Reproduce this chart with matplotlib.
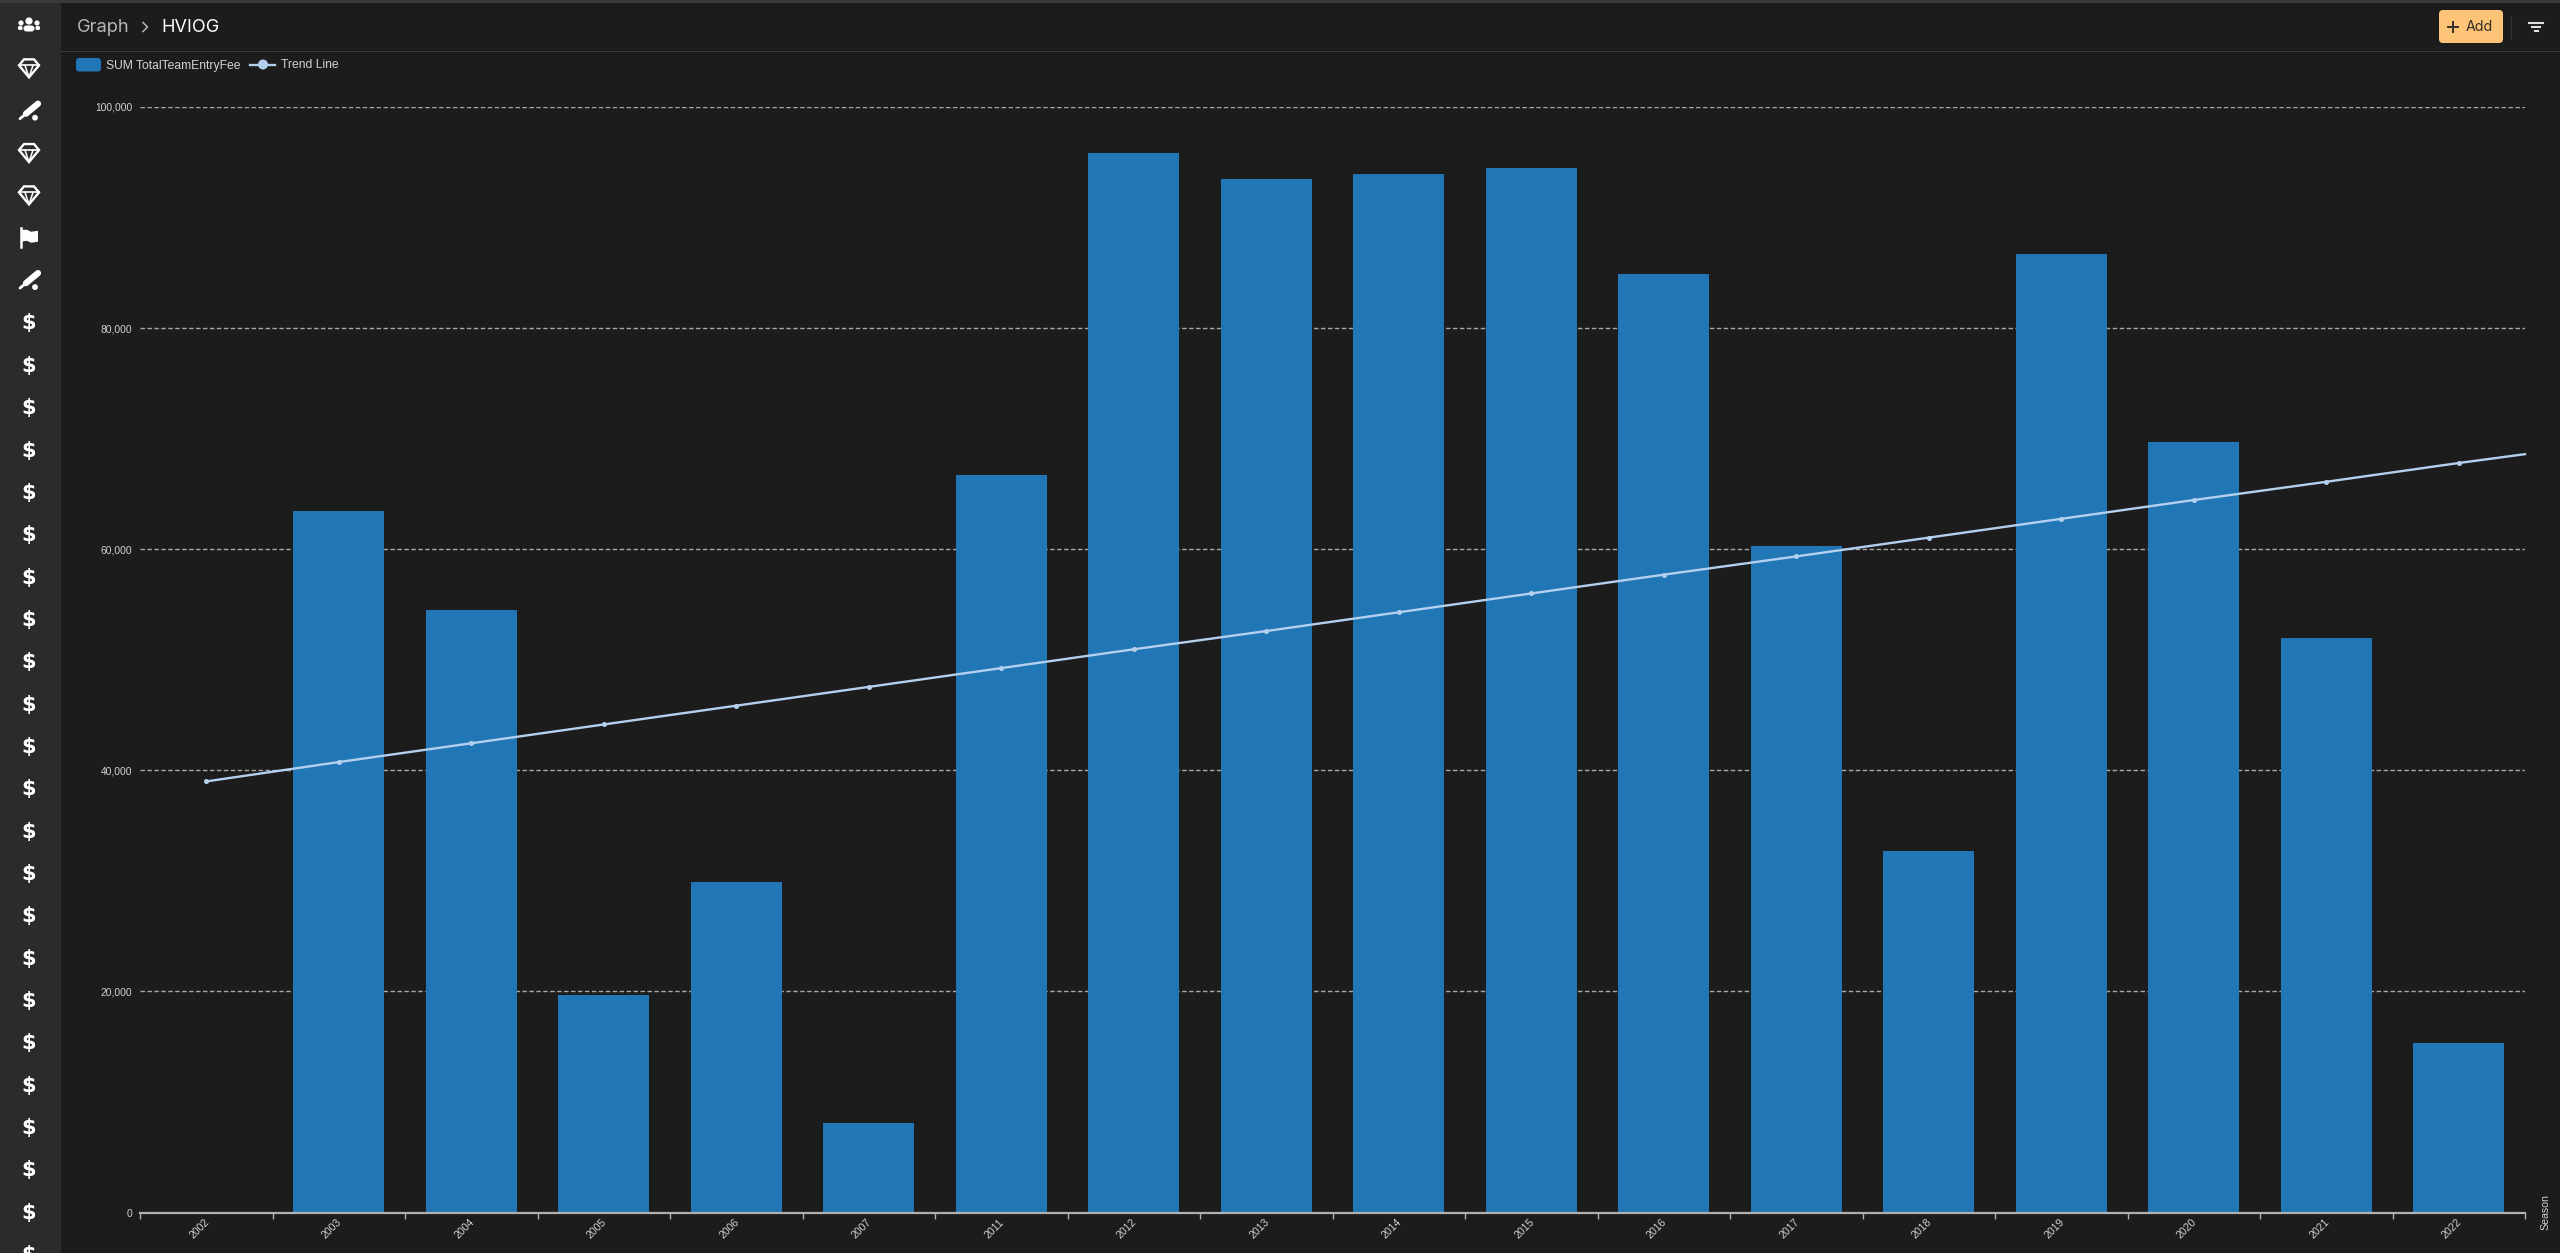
import numpy as np
import matplotlib
matplotlib.use('Agg')
import matplotlib.pyplot as plt
from matplotlib.patches import FancyBboxPatch, Polygon, Rectangle, Circle
from matplotlib.lines import Line2D

seasons = ['2002', '2003', '2004', '2005', '2006', '2007', '2011', '2012', '2013',
           '2014', '2015', '2016', '2017', '2018', '2019', '2020', '2021', '2022']
entry_fee = [0, 63500, 54500, 19700, 29900, 8100, 66700, 95800, 93500,
             93900, 94500, 84900, 60300, 32700, 86700, 69700, 52000, 15300]
trend = [39000, 40750, 42450, 44150, 45850, 47550, 49250, 50950, 52600,
         54300, 56000, 57700, 59350, 61050, 62750, 64450, 66100, 67800]
trend_end = 68600
y_ticks = [0, 20000, 40000, 60000, 80000, 100000]

# icons down the side bar, top to bottom
side_icons = ['people', 'gem', 'bat', 'gem', 'gem', 'flag', 'bat'] + ['dollar'] * 23

BG = '#1c1c1c'
SIDE = '#2b2b2b'
BAR = '#2176b6'
LINE = '#b4d0ef'
TXT = '#d2d2d2'
W, H = 2560, 1253

plt.rcParams['font.family'] = ['Liberation Sans', 'DejaVu Sans']

fig = plt.figure(figsize=(W / 100, H / 100), dpi=100, facecolor=BG)

# chart axes, placed in pixels
x0, x1, y_top, y_bot = 140, 2525, 107, 1212.6
ax = fig.add_axes([x0 / W, 1 - y_bot / H, (x1 - x0) / W, (y_bot - y_top) / H], facecolor=BG)
pos = np.arange(len(seasons))
ax.set_xlim(-0.5, len(seasons) - 0.5)
ax.set_ylim(0, 100000)
ax.set_axisbelow(True)
ax.yaxis.grid(True, color='#a8a8a8', lw=1, dashes=(3.2, 1.8))
ax.bar(pos, entry_fee, width=0.69, color=BAR, zorder=2)
ax.plot(list(pos) + [len(seasons) - 0.5], trend + [trend_end], color=LINE, lw=1.7, zorder=3, clip_on=False)
ax.plot(pos, trend, ls='none', marker='o', ms=2.6, color=LINE, zorder=4, clip_on=False)

for s in ['top', 'left', 'right']:
    ax.spines[s].set_visible(False)
ax.spines['bottom'].set_color('#b0b0b0')
ax.spines['bottom'].set_linewidth(1.6)
ax.spines['bottom'].set_zorder(5)

ax.set_yticks(y_ticks)
ax.set_yticklabels([f'{v:,}' for v in y_ticks], fontsize=7.4, color=TXT)
ax.tick_params(axis='y', length=0, pad=5.5)
ax.set_xticks(np.arange(-0.5, len(seasons)))
ax.set_xticklabels([])
ax.tick_params(axis='x', length=4, width=1, color='#b0b0b0')
for p, s in zip(pos, seasons):
    ax.annotate(s, (p, 0), xycoords=('data', 'axes fraction'), xytext=(-7, -16), textcoords='offset pixels',
                rotation=45, ha='center', va='center', fontsize=7.6, color=TXT)

# everything around the chart, in pixel coordinates
ov = fig.add_axes([0, 0, 1, 1], facecolor='none', zorder=10)
ov.set_xlim(0, W)
ov.set_ylim(H, 0)
ov.axis('off')

ov.add_patch(Rectangle((0, 0), 61, H, color=SIDE, lw=0))
ov.add_patch(Rectangle((0, 0), W, 3, color='#3a3a3a', lw=0))
ov.add_patch(Rectangle((61, 50.5), W - 61, 1.5, color='#3a3a3a', lw=0))


def gem(cx, cy):
    ov.add_patch(Polygon([(cx - 10, cy - 3), (cx - 5, cy - 9), (cx + 5, cy - 9), (cx + 10, cy - 3), (cx, cy + 9)],
                         closed=True, fc='none', ec='white', lw=1.7))
    ov.plot([cx - 10, cx + 10], [cy - 3, cy - 3], color='white', lw=1.2)
    ov.plot([cx - 4, cx, cx + 4], [cy - 3, cy + 9, cy - 3], color='white', lw=1.1)


def bat(cx, cy):
    ov.plot([cx - 9, cx - 3], [cy + 8, cy + 3], color='white', lw=2, solid_capstyle='round')
    ov.plot([cx - 3, cx + 9], [cy + 3, cy - 7], color='white', lw=4.5, solid_capstyle='round')
    ov.add_patch(Circle((cx + 6, cy + 7), 2.9, color='white', lw=0))


def flag(cx, cy):
    ov.plot([cx - 8, cx - 8], [cy - 10, cy + 9], color='white', lw=1.8)
    ov.add_patch(Polygon([(cx - 8, cy - 8), (cx - 2, cy - 8), (cx + 2, cy - 6), (cx + 9, cy - 7),
                          (cx + 9, cy + 4), (cx + 2, cy + 5), (cx - 2, cy + 3), (cx - 8, cy + 4)],
                         closed=True, color='white', lw=0))


def people(cx, cy):
    for dx, r in [(-8, 2.6), (8, 2.6), (0, 3.6)]:
        ov.add_patch(Circle((cx + dx, cy - 3 if dx else cy - 5), r, color='white', lw=0))
    ov.add_patch(FancyBboxPatch((cx - 5.5, cy - 0.5), 11, 6, boxstyle='round,pad=0,rounding_size=3', color='white', lw=0))
    ov.add_patch(FancyBboxPatch((cx - 11, cy), 4.5, 4, boxstyle='round,pad=0,rounding_size=1.5', color='white', lw=0))
    ov.add_patch(FancyBboxPatch((cx + 6.5, cy), 4.5, 4, boxstyle='round,pad=0,rounding_size=1.5', color='white', lw=0))


for i, kind in enumerate(side_icons):
    cy = 26 + i * 42.35
    if kind == 'gem':
        gem(29, cy)
    elif kind == 'bat':
        bat(29, cy)
    elif kind == 'flag':
        flag(29, cy)
    elif kind == 'people':
        people(29, cy)
    else:
        ov.text(29, cy + 1, '$', color='white', fontsize=15, fontweight='bold', ha='center', va='center',
                family='DejaVu Sans', clip_on=True)

# header
ov.text(77, 27.5, 'Graph', color='#b5b5b5', fontsize=13.2, family='Inter', va='center')
ov.plot([143, 147.5, 143], [22.5, 27, 31.5], color='#b5b5b5', lw=1.1)
ov.text(161, 27.5, 'HVIOG', color='white', fontsize=13, family='Inter', va='center')
ov.add_patch(FancyBboxPatch((2439, 10), 64, 33, boxstyle='round,pad=0,rounding_size=4', fc='#fdc477', ec='none'))
ov.plot([2448, 2458], [26.5, 26.5], color='#33302a', lw=1.4)
ov.plot([2453, 2453], [21.5, 31.5], color='#33302a', lw=1.4)
ov.text(2466, 27, 'Add', color='#33302a', fontsize=10.2, family='Inter', va='center')
ov.plot([2511, 2511], [16, 38], color='#333333', lw=1)
for y, a, b in [(23, 2529, 2543), (27, 2532, 2540), (31, 2534.5, 2537.5)]:
    ov.plot([a, b], [y, y], color='#e0e0e0', lw=1.5)

# legend
ov.add_patch(FancyBboxPatch((76, 58), 25, 13.5, boxstyle='round,pad=0,rounding_size=3', fc=BAR, ec='none'))
ov.text(106, 65.5, 'SUM TotalTeamEntryFee', color=TXT, fontsize=8.7, va='center')
ov.add_line(Line2D([250, 275], [64.5, 64.5], color=LINE, lw=1.7))
ov.add_patch(Circle((263, 64.5), 5, color=LINE, lw=0))
ov.text(281, 65.5, 'Trend Line', color=TXT, fontsize=8.7, va='center')

ov.text(2545, 1212, 'Season', color=TXT, fontsize=7.6, rotation=90, ha='center', va='center')

fig.savefig('out.png', dpi=100, facecolor=BG)
